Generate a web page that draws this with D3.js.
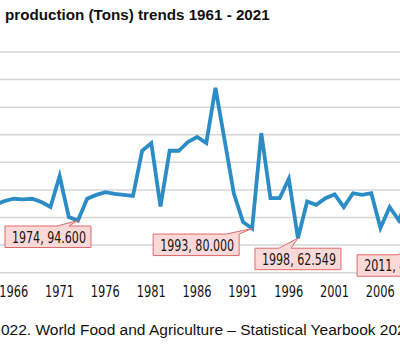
<!DOCTYPE html>
<html><head><meta charset="utf-8">
<script src="https://cdn.jsdelivr.net/npm/d3@7"></script>
<style>
html,body{margin:0;padding:0;background:#fff;overflow:hidden}
svg{display:block}
</style></head>
<body>
<svg id="c" width="400" height="350"></svg>
<script>
// ---- data ----
const years = d3.range(1964, 2012);
const values = [
 122, 123, 130, 134, 133, 134, 128, 119, 175, 101,
 94.6, 134, 141, 146, 143, 141, 139, 221, 235, 120,
 221, 221, 237, 246, 235, 335, 240, 144, 92, 80,
 253, 135, 135, 170, 62.549, 129, 123, 135, 142, 119,
 144, 141, 144, 81, 119, 95, 135, 45.2
];
const tickYears = [1966, 1971, 1976, 1981, 1986, 1991, 1996, 2001, 2006];
const gridValues = [0, 50, 100, 150, 200, 250, 300, 350, 400];
const calloutYears = [1974, 1993, 1998, 2011];
const calloutTexts = ["1974, 94.600", "1993, 80.000", "1998, 62.549", "2011, 45.200"];
const titleText = "production (Tons) trends 1961 - 2021";
const sourceText = "022. World Food and Agriculture \u2013 Statistical Yearbook 2022.";

// ---- layout ----
const svg = d3.select("#c");
const x = d3.scaleLinear().domain([1961, 2021]).range([-41.2, 508.8]);
const y = d3.scaleLinear().domain([0, 400]).range([272.7, 52]);
const narrow = "'Liberation Sans Narrow','Arial Narrow','DejaVu Sans Condensed',sans-serif";

svg.append("text").attr("x", 5).attr("y", 20)
  .attr("font-family", "'Liberation Sans',Arial,sans-serif")
  .attr("font-weight", "bold").attr("font-size", 15.2).attr("fill", "#111")
  .text(titleText);

svg.append("g").selectAll("line").data(gridValues).join("line")
  .attr("x1", 0).attr("x2", 400)
  .attr("y1", d => y(d)).attr("y2", d => y(d))
  .attr("stroke", "#d6d6d6").attr("stroke-width", 1.5);

const ax = svg.append("g").attr("transform", "translate(0,284)")
  .call(d3.axisBottom(x).tickValues(tickYears).tickFormat(d3.format("d")).tickSize(0));
ax.select(".domain").remove();
ax.selectAll("text")
  .attr("font-family", narrow).attr("font-size", 16).attr("fill", "#151515")
  .attr("textLength", 29).attr("lengthAdjust", "spacingAndGlyphs")
  .attr("dx", 8.5).attr("dy", "0.71em").attr("y", 2);

const line = d3.line().x((d, i) => x(years[i])).y(d => y(d));
svg.append("path").datum(values).attr("d", line)
  .attr("fill", "none").attr("stroke", "#2b8cc6").attr("stroke-width", 3.8)
  .attr("stroke-linejoin", "miter");

// callout placement relative to the point: box offset, wedge base on top edge
const calloutLayout = {
  1974: {dx: -73, dy: 5.5, w1: 52, w2: 64},
  1993: {dx: -99, dy: 5.5, w1: 73, w2: 86},
  1998: {dx: -43, dy: 10, w1: 24, w2: 36},
  2011: {dx: -60, dy: 7, w1: 40, w2: 52}
};
const cg = svg.append("g");
calloutYears.forEach((yr, k) => {
  const v = values[years.indexOf(yr)];
  const px = x(yr), py = y(v);
  const L = calloutLayout[yr];
  const bx = px + L.dx, by = py + L.dy;
  const g = cg.append("g");
  const path = g.append("path");
  g.append("text").attr("x", bx + 7).attr("y", by + 16.5)
    .attr("font-family", narrow).attr("font-size", 15.5).attr("fill", "#151515")
    .attr("textLength", 74).attr("lengthAdjust", "spacingAndGlyphs")
    .text(calloutTexts[k]);
  const bw = 86, bh = 21.5;
  path.attr("d", `M${bx},${by}H${bx + L.w1}L${px},${py}L${bx + L.w2},${by}H${bx + bw}V${by + bh}H${bx}Z`)
    .attr("fill", "#fbd9d9").attr("stroke", "#e26a6a").attr("stroke-width", 1);
});

svg.append("text").attr("x", 1).attr("y", 335)
  .attr("font-family", "'Liberation Sans',Arial,sans-serif")
  .attr("font-size", 15.5).attr("fill", "#111")
  .text(sourceText);
</script>
</body></html>
